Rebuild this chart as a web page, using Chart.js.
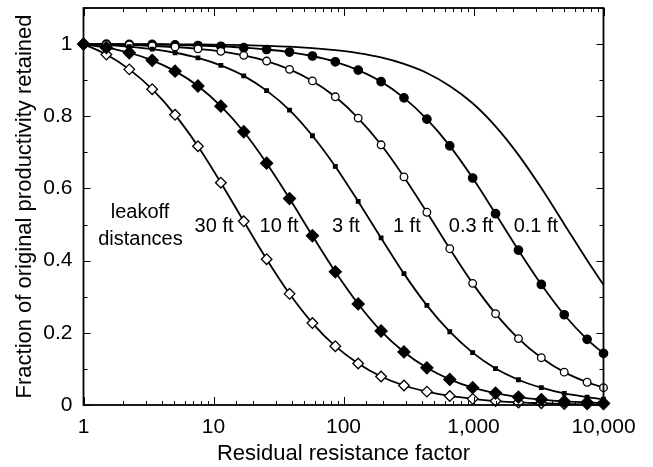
<!DOCTYPE html>
<html><head><meta charset="utf-8">
<script src="https://cdn.jsdelivr.net/npm/chart.js@4"></script>
<style>html,body{margin:0;padding:0;background:#fff;}</style>
</head><body>
<canvas id="c" width="653" height="467"></canvas>
<script>
// Residual resistance factor (x) sample points
const factors = [1, 1.5, 2.25, 3.375, 5.063, 7.594, 11.39, 17.09, 25.63, 38.44, 57.67, 86.5, 129.7, 194.6, 291.9, 437.9, 656.8, 985.3, 1478, 2217, 3325, 4988, 7482, 10000];
// Fraction of original productivity retained, per leakoff distance
const ft30  = [1, 0.971, 0.930, 0.875, 0.804, 0.717, 0.616, 0.509, 0.404, 0.308, 0.227, 0.163, 0.115, 0.079, 0.054, 0.037, 0.025, 0.017, 0.011, 0.007, 0.005, 0.003, 0.002, 0.002];
const ft10  = [1, 0.990, 0.976, 0.955, 0.925, 0.884, 0.828, 0.757, 0.670, 0.572, 0.469, 0.369, 0.280, 0.205, 0.147, 0.103, 0.071, 0.048, 0.033, 0.022, 0.015, 0.010, 0.007, 0.005];
const ft3   = [1, 0.997, 0.993, 0.986, 0.976, 0.962, 0.941, 0.912, 0.871, 0.817, 0.746, 0.661, 0.564, 0.463, 0.364, 0.276, 0.203, 0.145, 0.101, 0.070, 0.048, 0.032, 0.022, 0.016];
const ft1   = [1, 0.999, 0.998, 0.995, 0.992, 0.987, 0.980, 0.969, 0.953, 0.930, 0.898, 0.854, 0.795, 0.721, 0.632, 0.534, 0.433, 0.337, 0.253, 0.184, 0.131, 0.091, 0.063, 0.048];
const ft03  = [1, 1, 0.999, 0.999, 0.998, 0.996, 0.994, 0.990, 0.985, 0.978, 0.967, 0.951, 0.928, 0.896, 0.851, 0.792, 0.718, 0.629, 0.530, 0.429, 0.334, 0.250, 0.182, 0.143];
const ft01  = [1, 1, 1, 1, 0.999, 0.999, 0.998, 0.997, 0.995, 0.993, 0.989, 0.983, 0.975, 0.963, 0.945, 0.920, 0.884, 0.836, 0.772, 0.693, 0.601, 0.501, 0.401, 0.333];

const xTickValues = [1, 10, 100, 1000, 10000];
const xTickLabels = ['1', '10', '100', '1,000', '10,000'];
const yTickLabels = ['0', '0.2', '0.4', '0.6', '0.8', '1'];

// annotation texts, anchored in data coordinates
const notes = [
  {text: 'leakoff',   x: 2.72, y: 0.534},
  {text: 'distances', x: 2.74, y: 0.458},
  {text: '30 ft',     x: 10.1, y: 0.496},
  {text: '10 ft',     x: 31.9, y: 0.496},
  {text: '3 ft',      x: 104.5, y: 0.496},
  {text: '1 ft',      x: 307, y: 0.496},
  {text: '0.3 ft',    x: 957, y: 0.496},
  {text: '0.1 ft',    x: 3020, y: 0.496}
];

const FONT = "'Liberation Sans', Arial, Helvetica, sans-serif";

function series(vals) { return vals.map((v, i) => ({x: factors[i], y: v})); }

function ds(label, vals, style, pr, fill, order) {
  return {
    label, data: series(vals), borderColor: '#000', borderWidth: 1.8,
    pointStyle: style, pointRadius: pr, pointHoverRadius: pr,
    pointBackgroundColor: fill, pointBorderColor: '#000', pointBorderWidth: 1.3,
    cubicInterpolationMode: 'monotone', fill: false, clip: false, order
  };
}

const framePlugin = {
  id: 'frame',
  afterDatasetsDraw(chart) {
    const {ctx, chartArea: a, scales} = chart;
    ctx.save();
    ctx.strokeStyle = '#000';
    ctx.lineWidth = 1;
    ctx.beginPath();
    for (const t of scales.x.ticks) {
      const e = Math.log10(t.value);
      const major = Math.abs(e - Math.round(e)) < 1e-6;
      const len = major ? 8 : 4;
      const px = Math.round(scales.x.getPixelForValue(t.value)) + 0.5;
      ctx.moveTo(px, a.bottom); ctx.lineTo(px, a.bottom - len);
      ctx.moveTo(px, a.top); ctx.lineTo(px, a.top + len);
    }
    for (const t of scales.y.ticks) {
      const i = Math.round(t.value * 10);
      const len = (i % 2 === 0) ? 7 : 4;
      const py = Math.round(scales.y.getPixelForValue(t.value)) + 0.5;
      ctx.moveTo(a.left, py); ctx.lineTo(a.left + len, py);
      ctx.moveTo(a.right, py); ctx.lineTo(a.right - len, py);
    }
    ctx.stroke();
    ctx.lineWidth = 1.8;
    ctx.strokeRect(a.left, a.top, a.right - a.left, a.bottom - a.top);
    ctx.fillStyle = '#000';
    ctx.font = '20px ' + FONT;
    ctx.textAlign = 'center';
    ctx.textBaseline = 'middle';
    for (const n of notes) {
      ctx.fillText(n.text, scales.x.getPixelForValue(n.x), scales.y.getPixelForValue(n.y));
    }
    ctx.restore();
  }
};

new Chart(document.getElementById('c'), {
  type: 'line',
  data: {
    datasets: [
      ds('0.1 ft', ft01, 'circle', 0, '#000', 6),
      ds('0.3 ft', ft03, 'circle', 4.2, '#000', 5),
      ds('1 ft', ft1, 'circle', 3.8, '#fff', 4),
      ds('3 ft', ft3, 'rect', 2.5, '#000', 3),
      ds('30 ft', ft30, 'rectRot', 5.3, '#fff', 2),
      ds('10 ft', ft10, 'rectRot', 6, '#000', 1)
    ]
  },
  options: {
    responsive: false,
    animation: false,
    devicePixelRatio: 1,
    layout: {padding: {left: 0, right: 49.5, top: 8, bottom: 0}},
    plugins: {legend: {display: false}, tooltip: {enabled: false}},
    scales: {
      x: {
        type: 'logarithmic', min: 1, max: 10000,
        grid: {display: false, drawTicks: false},
        border: {display: false},
        ticks: {
          autoSkip: false, maxRotation: 0, minRotation: 0, padding: 10,
          color: '#000', font: {family: FONT, size: 21},
          callback: (v) => { const k = xTickValues.indexOf(v); return k >= 0 ? xTickLabels[k] : ''; }
        },
        title: {display: true, text: 'Residual resistance factor', color: '#000',
                font: {family: FONT, size: 22}, padding: {top: 0, bottom: 0}},
        afterFit: (s) => { s.height = 62; s.paddingLeft = 0; s.paddingRight = 0; }
      },
      y: {
        min: 0, max: 1.1,
        grid: {display: false, drawTicks: false},
        border: {display: false},
        ticks: {
          stepSize: 0.1, padding: 11, color: '#000', font: {family: FONT, size: 21},
          callback: (v) => { const i = Math.round(v * 10); return (i % 2 === 0 && i <= 10) ? yTickLabels[i / 2] : ''; }
        },
        title: {display: true, text: 'Fraction of original productivity retained', color: '#000',
                font: {family: FONT, size: 22}, padding: {top: 12, bottom: 0}},
        afterFit: (s) => { s.width = 83.5; s.paddingTop = 0; s.paddingBottom = 0; }
      }
    }
  },
  plugins: [framePlugin]
});
</script>
</body></html>
